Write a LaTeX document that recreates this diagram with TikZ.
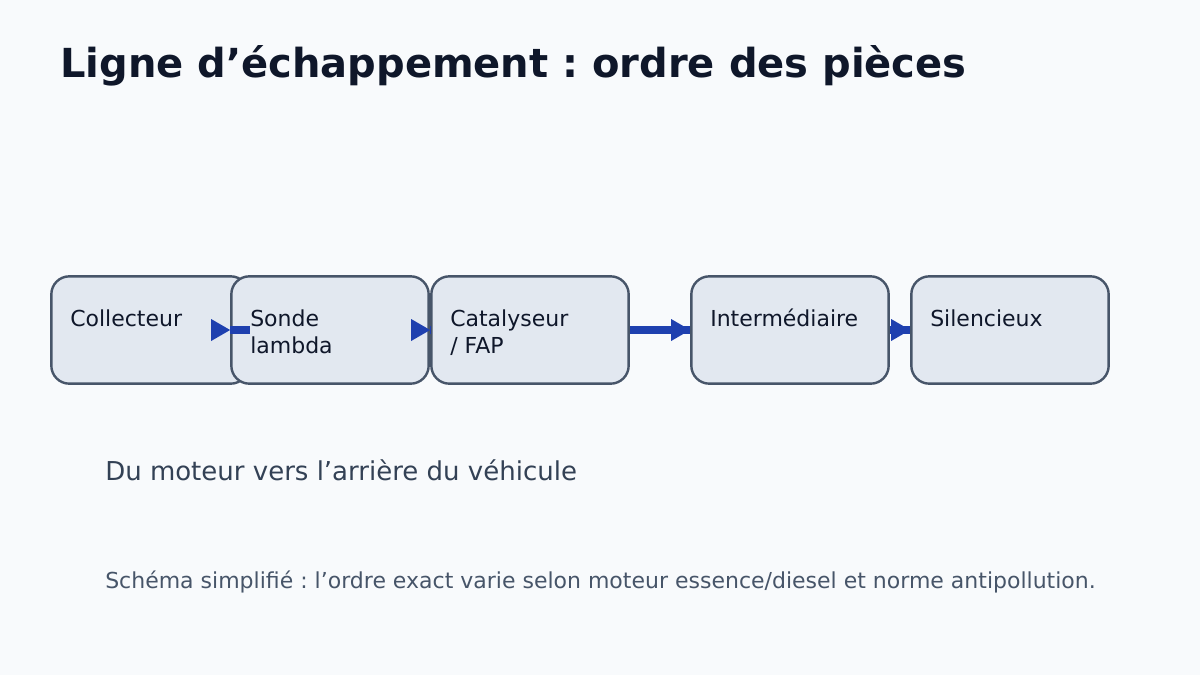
\documentclass[tikz,border=0pt]{standalone}
\usepackage{fontspec}
\setmainfont{DejaVu Sans}
\usepackage{tikz}
\frenchspacing

\definecolor{fond}{HTML}{F8FAFC}
\definecolor{boitefond}{HTML}{E2E8F0}
\definecolor{bord}{HTML}{475569}
\definecolor{encre}{HTML}{0F172A}
\definecolor{gris}{HTML}{334155}
\definecolor{note}{HTML}{475569}
\definecolor{flux}{HTML}{1E40AF}

\tikzset{
  piece/.style={draw=bord, line width=1.8pt, fill=boitefond, rounded corners=13.5pt,
    minimum width=148pt, minimum height=80.5pt, inner sep=0pt},
  nom/.style={anchor=base west, text=encre, font=\fontsize{16.5pt}{20.25pt}\selectfont,
    align=left, inner sep=0pt},
  tige/.style={draw=flux, line width=6pt},
  tete/.style={fill=flux},
}

\begin{document}
\begin{tikzpicture}[x=0.75pt, y=-0.75pt]

    \useasboundingbox[fill=fond] (0,0) rectangle (1200,675);

    \node[anchor=base west, text=encre, font=\fontsize{30pt}{36pt}\selectfont\bfseries, inner sep=0pt]
        (titre) at (60,77) {Ligne d’échappement : ordre des pièces};

    \node[piece] (col) at (150,330) {};
    \node[piece] (son) at (330,330) {};
    \node[piece] (cat) at (530,330) {};
    \node[piece] (int) at (790,330) {};
    \node[piece] (sil) at (1010,330) {};

    \node[nom] at (70,326) {Collecteur};
    \node[nom] at (250,353) {Sonde\\lambda};
    \node[nom] at (450,353) {Catalyseur\\/ FAP};
    \node[nom] at (710,326) {Intermédiaire};
    \node[nom] at (930,326) {Silencieux};

    \foreach \a/\b in {col/son, son/cat, cat/int, int/sil}{
        \draw[tige] (\a.east) -- (\b.west);
        \fill[tete] (\b.west) -- ++(-19,-11) -- ++(0,22) -- cycle;
    }

    \node[anchor=base west, text=gris, font=\fontsize{19.5pt}{24pt}\selectfont, inner sep=0pt]
        (sens) at (105,480) {Du moteur vers l’arrière du véhicule};
    \node[anchor=base west, text=note, font=\fontsize{16.5pt}{20pt}\selectfont, inner sep=0pt]
        (remarque) at (105,588) {Schéma simplifié : l’ordre exact varie selon moteur essence/diesel et norme antipollution.};

\end{tikzpicture}
\end{document}
